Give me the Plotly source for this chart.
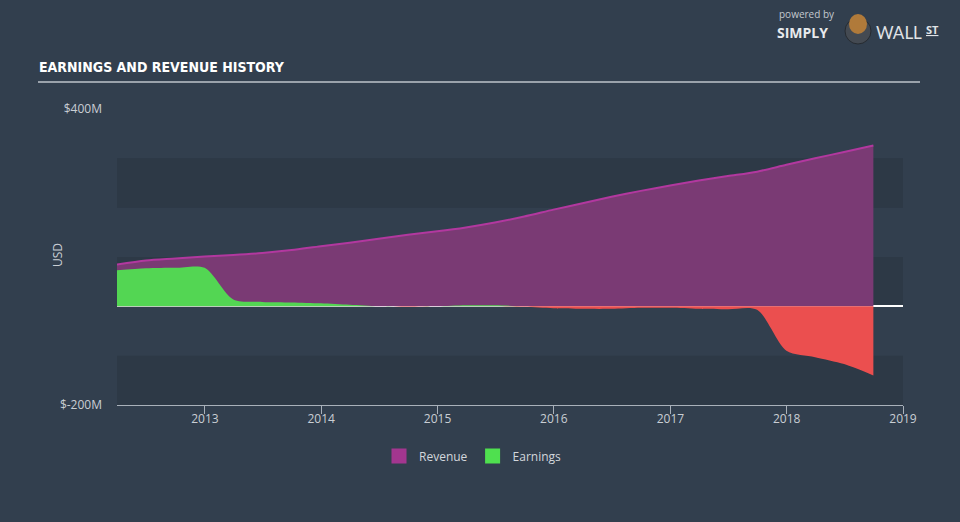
import plotly.graph_objects as go

dates = ["2012-03-31", "2012-06-30", "2012-09-30", "2012-12-31",
         "2013-03-31", "2013-06-30", "2013-09-30", "2013-12-31",
         "2014-03-31", "2014-06-30", "2014-09-30", "2014-12-31",
         "2015-03-31", "2015-06-30", "2015-09-30", "2015-12-31",
         "2016-03-31", "2016-06-30", "2016-09-30", "2016-12-31",
         "2017-03-31", "2017-06-30", "2017-09-30", "2017-12-31",
         "2018-03-31", "2018-06-30", "2018-09-30"]
revenue = [85, 93, 97, 101, 104, 108, 114, 122, 129, 137, 145, 152,
           160, 170, 182, 196, 209, 222, 234, 245, 255, 264, 273, 287,
           300, 313, 326]
earnings = [73, 77, 78, 78, 14, 9, 8, 6, 3, 0, -1, 0,
            2, 2, -1, -4, -5, -5, -3, -3, -5, -6, -7, -90,
            -103, -117, -140]
y_ticks = [-200, 400]
y_tick_text = ["$-200M", "$400M"]
x_ticks = ["2013-01-01", "2014-01-01", "2015-01-01", "2016-01-01",
           "2017-01-01", "2018-01-01", "2019-01-01"]
x_tick_text = ["2013", "2014", "2015", "2016", "2017", "2018", "2019"]

earn_pos = [max(v, 0) for v in earnings]
earn_neg = [min(v, 0) for v in earnings]

BG = "#323f4e"
BAND = "#2d3946"
TXT = "#c9ced4"
FONT = "Open Sans, Lato, sans-serif"

fig = go.Figure()
fig.add_trace(go.Scatter(
    x=dates, y=revenue, mode="lines", fill="tozeroy",
    line=dict(color="#b2389f", width=2, shape="spline", smoothing=0.8),
    fillcolor="#7a3a74", showlegend=False, hoverinfo="skip"))
fig.add_trace(go.Scatter(
    x=dates, y=earn_pos, mode="lines", fill="tozeroy",
    line=dict(color="#53d653", width=0, shape="spline", smoothing=0.8),
    fillcolor="#53d653", showlegend=False, hoverinfo="skip"))
fig.add_trace(go.Scatter(
    x=dates, y=earn_neg, mode="lines", fill="tozeroy",
    line=dict(color="#eb4f4f", width=0, shape="spline", smoothing=0.8),
    fillcolor="#eb4f4f", showlegend=False, hoverinfo="skip"))
# legend entries
fig.add_trace(go.Scatter(x=[None], y=[None], mode="markers", name="Revenue",
                         marker=dict(symbol="square", size=15, color="#a3368f")))
fig.add_trace(go.Scatter(x=[None], y=[None], mode="markers", name="Earnings",
                         marker=dict(symbol="square", size=15, color="#4fe04f")))


def px_x(p):
    return (p - 117) / 786


def px_y(p):
    return (405 - p) / 296


shapes = []
for y0, y1 in [(200, 300), (0, 100), (-200, -100)]:
    shapes.append(dict(type="rect", xref="paper", yref="y", x0=0, x1=1,
                       y0=y0, y1=y1, fillcolor=BAND, line=dict(width=0),
                       layer="below"))
# title underline
shapes.append(dict(type="line", xref="paper", yref="paper",
                   x0=px_x(38), x1=px_x(920), y0=px_y(82), y1=px_y(82),
                   line=dict(color="#9aa2ab", width=2)))
# logo badge
shapes.append(dict(type="circle", xref="paper", yref="paper",
                   x0=px_x(845), x1=px_x(871), y0=px_y(44), y1=px_y(18),
                   fillcolor="#444a52", line=dict(color="#262b31", width=1)))
shapes.append(dict(type="circle", xref="paper", yref="paper",
                   x0=px_x(849), x1=px_x(867), y0=px_y(34), y1=px_y(14),
                   fillcolor="#b07a3a", line=dict(width=0)))

annotations = [
    dict(text="<b>EARNINGS AND REVENUE HISTORY</b>", x=px_x(37), y=px_y(67),
         xref="paper", yref="paper", xanchor="left", yanchor="middle",
         showarrow=False,
         font=dict(family="DejaVu Sans Condensed, DejaVu Sans, sans-serif",
                   size=14, color="#ffffff")),
    dict(text="USD", x=px_x(57), y=px_y(255), xref="paper", yref="paper",
         textangle=-90, showarrow=False, xanchor="center", yanchor="middle",
         font=dict(family=FONT, size=12, color=TXT)),
    dict(text="powered by", x=px_x(777), y=px_y(14), xref="paper", yref="paper",
         xanchor="left", yanchor="middle", showarrow=False,
         font=dict(family=FONT, size=10, color="#c4c9cf")),
    dict(text="<b>SIMPLY</b>", x=px_x(775), y=px_y(33), xref="paper", yref="paper",
         xanchor="left", yanchor="middle", showarrow=False,
         font=dict(family=FONT, size=14, color="#e8eaed")),
    dict(text="WALL", x=px_x(874), y=px_y(32), xref="paper", yref="paper",
         xanchor="left", yanchor="middle", showarrow=False,
         font=dict(family="Lato, sans-serif", size=17, color="#e0e3e6")),
    dict(text="<b><u>ST</u></b>", x=px_x(924), y=px_y(29), xref="paper", yref="paper",
         xanchor="left", yanchor="middle", showarrow=False,
         font=dict(family=FONT, size=11, color="#e0e3e6")),
]

fig.update_layout(
    width=960, height=522,
    paper_bgcolor=BG, plot_bgcolor=BG,
    margin=dict(l=117, r=57, t=109, b=117),
    font=dict(family=FONT, size=12, color=TXT),
    shapes=shapes, annotations=annotations,
    showlegend=True,
    legend=dict(orientation="h", x=px_x(473), xanchor="center", y=-0.123,
                yanchor="top", font=dict(size=12, color="#d3d7dc"),
                bgcolor="rgba(0,0,0,0)", itemwidth=30),
    xaxis=dict(type="date", range=["2012-03-31", "2019-01-01"],
               tickvals=x_ticks, ticktext=x_tick_text,
               showgrid=False, zeroline=False,
               showline=True, linecolor="#a9b1ba", linewidth=1,
               ticks="outside", ticklen=8, tickcolor="#a9b1ba",
               ticklabelstandoff=-5,
               tickfont=dict(size=12, color=TXT), fixedrange=True),
    yaxis=dict(range=[-200, 400], tickvals=y_ticks, ticktext=y_tick_text,
               showgrid=False, zeroline=True, zerolinecolor="#ffffff",
               zerolinewidth=1.5, showline=False, ticks="",
               ticklabelstandoff=14,
               tickfont=dict(size=12, color=TXT), fixedrange=True),
)

fig.write_html("out.html", config={"displayModeBar": False},
               post_script="document.body.style.margin='0';")
